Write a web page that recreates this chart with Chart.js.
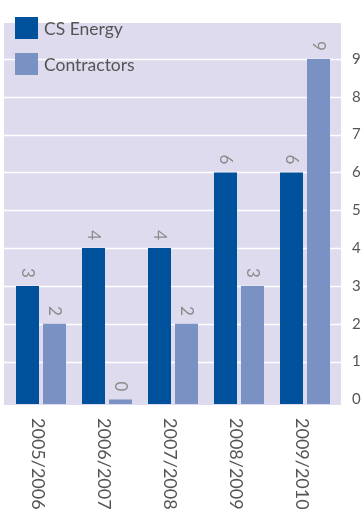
<!DOCTYPE html>
<html>
<head>
<meta charset="utf-8">
<script src="https://cdn.jsdelivr.net/npm/chart.js@4/dist/chart.umd.min.js"></script>
<style>
  html, body { margin: 0; padding: 0; background: #fff; }
  #wrap { position: relative; width: 363px; height: 509px; }
</style>
</head>
<body>
<div id="wrap"><canvas id="myChart" width="363" height="509"></canvas></div>
<script>
// safety stats chart: lost time injuries by financial year
const years = ['2005/2006', '2006/2007', '2007/2008', '2008/2009', '2009/2010'];
const csEnergy = [3, 4, 4, 6, 6];
const contractors = [2, 0, 2, 3, 9];
const yTicks = [0, 1, 2, 3, 4, 5, 6, 7, 8, 9];

const csColor = '#00519b';
const conColor = '#7a91c4';
const bgColor = '#dedbee';
const textColor = '#555555';
const valueColor = '#8c8c8c';
const yMin = -0.12;
const fontName = 'Lato, "Open Sans", sans-serif';

// background panel, white grid lines, rotated labels and the legend
const decor = {
    id: 'decor',
    beforeDatasetsDraw(chart) {
        const c = chart.ctx;
        const area = chart.chartArea;
        const y = chart.scales.y;
        c.save();
        c.fillStyle = bgColor;
        c.fillRect(4, area.top, 337, area.bottom - area.top + 1);
        c.strokeStyle = '#ffffff';
        c.lineWidth = 1.5;
        yTicks.forEach(v => {
            if (v === 0) return;
            const py = Math.round(y.getPixelForValue(v)) + 0.5;
            c.beginPath();
            c.moveTo(4, py);
            c.lineTo(341, py);
            c.stroke();
        });
        c.restore();
    },
    afterDraw(chart) {
        const c = chart.ctx;
        c.save();
        // value labels above bars, rotated clockwise
        c.fillStyle = valueColor;
        c.font = '17px ' + fontName;
        c.textAlign = 'right';
        c.textBaseline = 'middle';
        chart.data.datasets.forEach((ds, di) => {
            chart.getDatasetMeta(di).data.forEach((bar, i) => {
                c.save();
                c.translate(bar.x, bar.y - 8);
                c.rotate(Math.PI / 2);
                c.fillText(String(ds.data[i]), 0, 0);
                c.restore();
            });
        });
        // category labels under the axis, rotated clockwise
        const x = chart.scales.x;
        c.fillStyle = textColor;
        c.font = '18px ' + fontName;
        c.textAlign = 'left';
        years.forEach((lab, i) => {
            c.save();
            c.translate(x.getPixelForValue(i) - 3, 418);
            c.rotate(Math.PI / 2);
            c.fillText(lab, 0, 0);
            c.restore();
        });
        // legend in the top left corner
        c.font = '17.5px ' + fontName;
        c.textBaseline = 'middle';
        chart.data.datasets.forEach((ds, di) => {
            const top = 17 + di * 36;
            c.fillStyle = ds.backgroundColor;
            c.fillRect(15, top, 23, 22);
            c.fillStyle = textColor;
            c.fillText(ds.label, 44, top + 12);
        });
        c.restore();
    }
};

const ctx = document.getElementById('myChart').getContext('2d');
const myChart = new Chart(ctx, {
    type: 'bar',
    data: {
        labels: years,
        datasets: [{
            label: 'CS Energy',
            data: csEnergy,
            base: yMin,
            backgroundColor: csColor,
            categoryPercentage: 0.818,
            barPercentage: 0.852
        }, {
            label: 'Contractors',
            data: contractors,
            base: yMin,
            backgroundColor: conColor,
            categoryPercentage: 0.818,
            barPercentage: 0.852
        }]
    },
    options: {
        responsive: false,
        animation: false,
        layout: {
            padding: { left: 8, right: 0, top: 10, bottom: 105 }
        },
        plugins: {
            legend: { display: false },
            tooltip: { enabled: false }
        },
        scales: {
            x: {
                display: false
            },
            y: {
                position: 'right',
                min: yMin,
                max: 9.95,
                afterBuildTicks: s => { s.ticks = yTicks.map(v => ({ value: v })); },
                afterFit: s => { s.width = 25; },
                grid: { display: false, drawTicks: false },
                border: { display: false },
                ticks: {
                    padding: 14,
                    color: textColor,
                    font: { family: fontName, size: 15 }
                }
            }
        }
    },
    plugins: [decor]
});
</script>
</body>
</html>
